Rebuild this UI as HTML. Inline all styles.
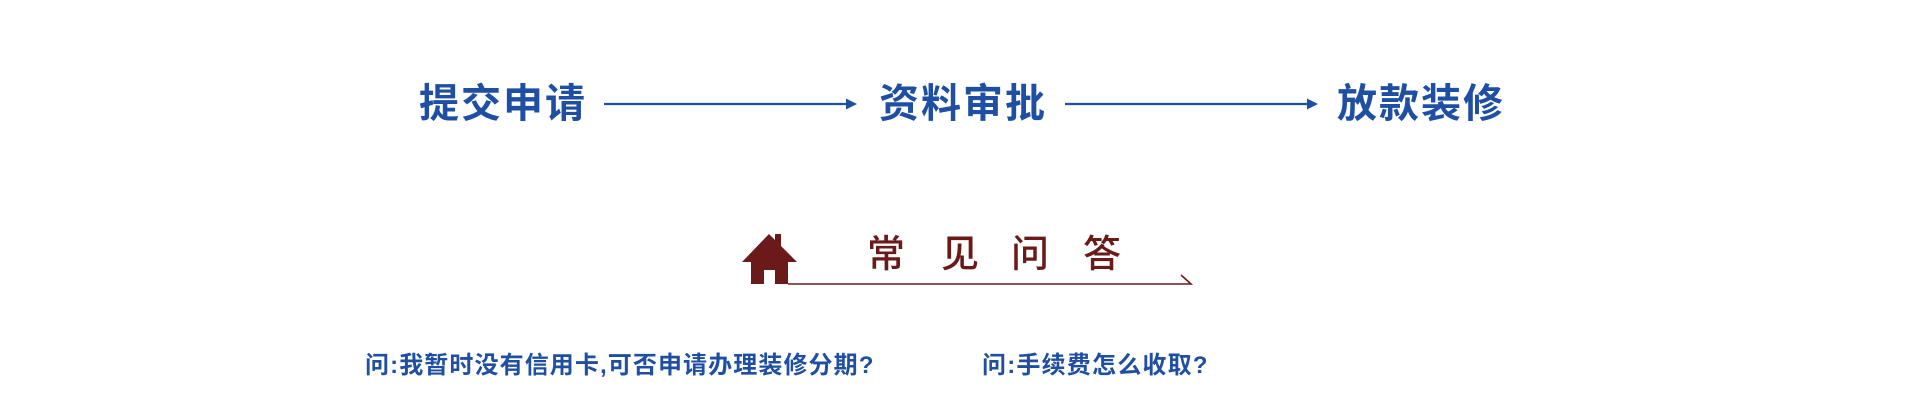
<!DOCTYPE html>
<html><head><meta charset="utf-8"><style>
html,body{margin:0;padding:0;background:#fff;}
body{width:1920px;height:400px;position:relative;overflow:hidden;font-family:"Liberation Sans","Noto Sans CJK SC",sans-serif;}
.t{position:absolute;white-space:nowrap;line-height:1;}
.b{color:#1f4fa3;font-weight:bold;font-size:40px;top:84px;letter-spacing:2px;}
.r{color:#6b1a1a;font-size:38px;top:236px;font-weight:500;}
.q{color:#1f4fa3;font-size:24px;top:354px;font-weight:bold;}
</style></head><body>
<div class="t b" style="left:419px">提交申请</div>
<div class="t b" style="left:879px">资料审批</div>
<div class="t b" style="left:1337px">放款装修</div>
<svg width="1920" height="400" style="position:absolute;left:0;top:0">
<line x1="604" y1="104" x2="848" y2="104" stroke="#1f4fa3" stroke-width="2.2"/>
<polygon points="846,98.5 857,104 846,109.5" fill="#1f4fa3"/>
<line x1="1065" y1="104" x2="1309" y2="104" stroke="#1f4fa3" stroke-width="2.2"/>
<polygon points="1307,98.5 1318,104 1307,109.5" fill="#1f4fa3"/>
<polygon points="769,234 742,262 797,262" fill="#6b1a1a"/>
<rect x="775" y="234" width="6" height="14" fill="#6b1a1a"/>
<rect x="751" y="261" width="37" height="23" fill="#6b1a1a"/>
<rect x="764" y="270" width="11" height="14" fill="#fff"/>
<polyline points="788,284 1191,284 1181,275" fill="none" stroke="#6b1a1a" stroke-width="1.6"/>
</svg>
<div class="t r" style="left:867px">常</div>
<div class="t r" style="left:941px">见</div>
<div class="t r" style="left:1011px">问</div>
<div class="t r" style="left:1083px">答</div>
<div class="t q" style="left:365px;letter-spacing:1.1px">问:我暂时没有信用卡,可否申请办理装修分期?</div>
<div class="t q" style="left:982px;letter-spacing:1.2px">问:手续费怎么收取?</div>
</body></html>
